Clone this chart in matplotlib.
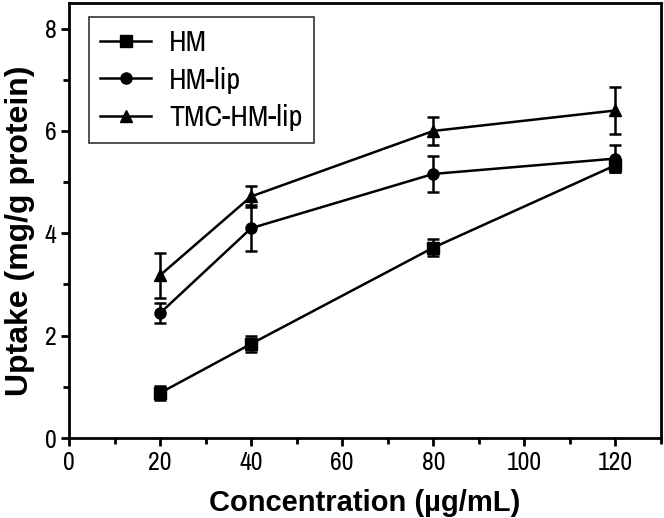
import matplotlib
matplotlib.use("Agg")
import matplotlib.pyplot as plt
from matplotlib.ticker import MultipleLocator
from matplotlib import font_manager

# concentrations (ug/mL)
conc = [20, 40, 80, 120]

hm = [0.88, 1.84, 3.72, 5.33]
hm_err = [0.13, 0.15, 0.17, 0.13]

hm_lip = [2.44, 4.10, 5.16, 5.46]
hm_lip_err = [0.20, 0.45, 0.36, 0.26]

tmc_hm_lip = [3.18, 4.72, 6.00, 6.40]
tmc_hm_lip_err = [0.44, 0.20, 0.27, 0.46]

names = ["HM", "HM-lip", "TMC-HM-lip"]

# narrow font for ticks/legend (the original looks like Arial Narrow)
avail = {f.name for f in font_manager.fontManager.ttflist}
narrow = "Liberation Sans"
for cand in ["Liberation Sans Narrow", "Arial Narrow", "Archivo Narrow"]:
    if cand in avail:
        narrow = cand
        break
plt.rcParams['font.family'] = ['Liberation Sans', 'DejaVu Sans']

fig = plt.figure(figsize=(6.64, 5.18), dpi=100)
ax = fig.add_axes([69/664, 1 - 438/518, (661 - 69)/664, (438 - 3)/518])

series = [(hm, hm_err, "s"), (hm_lip, hm_lip_err, "o"), (tmc_hm_lip, tmc_hm_lip_err, "^")]
handles = []
for (y, e, m), nm in zip(series, names):
    c = ax.errorbar(conc, y, yerr=e, color="black", marker=m, markersize=8,
                    linewidth=1.8, elinewidth=1.8, capsize=4, capthick=1.8, label=nm)
    handles.append(c[0])

ax.set_xlim(0, 130)
ax.set_ylim(0, 8.5)
ax.xaxis.set_major_locator(MultipleLocator(20))
ax.xaxis.set_minor_locator(MultipleLocator(10))
ax.yaxis.set_major_locator(MultipleLocator(2))
ax.yaxis.set_minor_locator(MultipleLocator(1))
for s in ax.spines.values():
    s.set_linewidth(2)
ax.tick_params(which="major", direction="out", length=6, width=2, labelsize=18.5, pad=3)
ax.tick_params(which="minor", direction="out", length=4, width=2)
for lb in ax.get_xticklabels() + ax.get_yticklabels():
    lb.set_fontfamily(narrow)

ax.set_xlabel("Concentration (µg/mL)", fontsize=21, fontweight="bold")
ax.set_ylabel("Uptake (mg/g protein)", fontsize=23, fontweight="bold")
ax.xaxis.set_label_coords(0.5, -0.118)
ax.yaxis.set_label_coords(-0.057, 0.477)

leg = ax.legend(handles=handles, labels=names, loc="upper left",
                bbox_to_anchor=(0.033, 0.967), prop={"family": narrow, "size": 21.5},
                frameon=True, fancybox=False, edgecolor="black", handlelength=1.7,
                handletextpad=0.6, borderpad=0.4, labelspacing=0.35, borderaxespad=0)
leg.get_frame().set_linewidth(1.2)

fig.savefig("out.png", dpi=100)
